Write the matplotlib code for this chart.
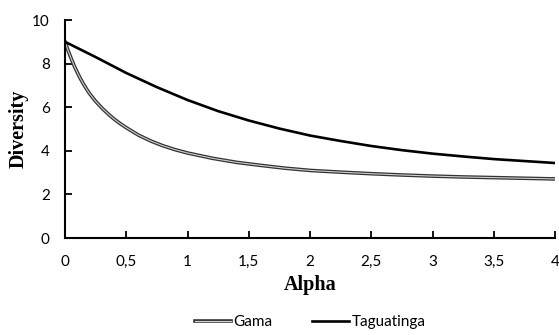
import matplotlib
matplotlib.use("Agg")
import matplotlib.pyplot as plt
import matplotlib.patheffects as pe

alpha_gama = [0, 0.025, 0.05, 0.075, 0.1, 0.125, 0.15, 0.175, 0.2, 0.25, 0.3, 0.35, 0.4, 0.45,
              0.5, 0.6, 0.7, 0.8, 0.9, 1.0, 1.2, 1.4, 1.6, 1.8, 2.0, 2.25, 2.5, 2.75, 3.0,
              3.25, 3.5, 3.75, 4.0]
gama = [9.0, 8.6, 8.24, 7.9, 7.6, 7.32, 7.07, 6.84, 6.63, 6.27, 5.97, 5.7, 5.46, 5.25,
        5.06, 4.72, 4.45, 4.23, 4.05, 3.9, 3.66, 3.47, 3.33, 3.2, 3.1, 3.02, 2.95, 2.89, 2.84,
        2.8, 2.77, 2.74, 2.71]

alpha_tag = [0, 0.25, 0.5, 0.75, 1.0, 1.25, 1.5, 1.75, 2.0, 2.25, 2.5, 2.75, 3.0,
             3.25, 3.5, 3.75, 4.0]
taguatinga = [9.0, 8.3, 7.57, 6.92, 6.33, 5.82, 5.39, 5.02, 4.7, 4.45, 4.22, 4.03, 3.87,
              3.74, 3.62, 3.53, 3.44]

xticks = [0, 0.5, 1, 1.5, 2, 2.5, 3, 3.5, 4]
xticklabels = ["0", "0,5", "1", "1,5", "2", "2,5", "3", "3,5", "4"]
yticks = [0, 2, 4, 6, 8, 10]

fig = plt.figure(figsize=(5.59, 3.35), dpi=100)
ax = fig.add_axes([65/559, 1-238/335, 490/559, 218/335])

ax.plot(alpha_gama, gama, color="#d0d0d0", lw=0.8, label="Gama",
        solid_joinstyle="round",
        path_effects=[pe.Stroke(linewidth=2.6, foreground="#333333"), pe.Normal()])
ax.plot(alpha_tag, taguatinga, color="black", lw=1.9, label="Taguatinga",
        solid_joinstyle="round")

ax.set_xlim(0, 4)
ax.set_ylim(0, 10)
ax.set_xticks(xticks)
ax.set_xticklabels(xticklabels)
ax.set_yticks(yticks)
for s in ["top", "right"]:
    ax.spines[s].set_visible(False)
for s in ["left", "bottom"]:
    ax.spines[s].set_linewidth(1.5)
ax.tick_params(direction="in", length=5, width=1.3, labelsize=11)
ax.tick_params(axis="x", pad=12)
ax.tick_params(axis="y", pad=11)
for lab in ax.get_xticklabels() + ax.get_yticklabels():
    lab.set_family("Lato")

ax.set_xlabel("Alpha", family="Liberation Serif", fontweight="bold", fontsize=14.5)
ax.set_ylabel("Diversity", family="Liberation Serif", fontweight="bold", fontsize=14.5)
ax.xaxis.set_label_coords(0.5, -0.168)
ax.yaxis.set_label_coords(-0.074, 0.5)

leg = ax.legend(loc="center", bbox_to_anchor=(0.5, -0.385), ncol=2, frameon=False,
                prop={"family": "Lato", "size": 11}, handlelength=2.4,
                handletextpad=0.15, columnspacing=2.6)

fig.savefig("out.png", dpi=100)
